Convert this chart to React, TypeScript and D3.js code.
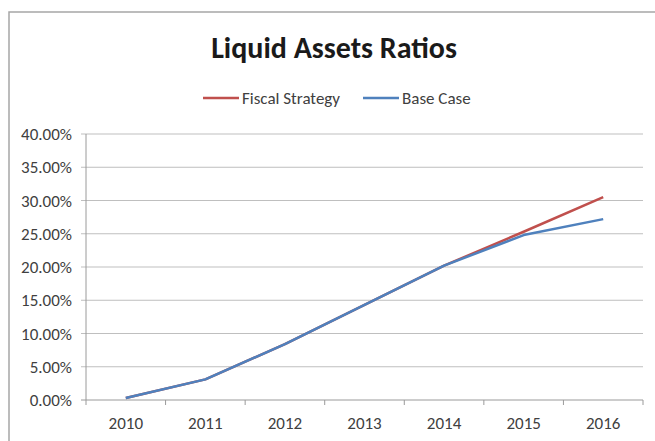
import React from "react";
import * as d3 from "d3";

const years = ["2010", "2011", "2012", "2013", "2014", "2015", "2016"];
const fiscalStrategy = [0.003, 0.031, 0.084, 0.143, 0.202, 0.253, 0.305];
const baseCase = [0.003, 0.031, 0.084, 0.143, 0.202, 0.248, 0.272];
const yTicks = [0, 0.05, 0.1, 0.15, 0.2, 0.25, 0.3, 0.35, 0.4];
const seriesNames = ["Fiscal Strategy", "Base Case"];
const seriesColors = ["#C0504D", "#4F81BD"];

const W = 655;
const H = 441;
const left = 86;
const right = 643;
const top = 134;
const bottom = 400;
const font = "Calibri, Carlito, Lato, 'Liberation Sans', Arial, sans-serif";

export default function App() {
  const x = d3.scaleBand<string>().domain(years).range([left, right]).padding(0);
  const y = d3.scaleLinear().domain([0, 0.4]).range([bottom, top]);
  const line = d3
    .line<number>()
    .x((_, i) => (x(years[i]) as number) + x.bandwidth() / 2)
    .y((d) => y(d));
  const fmt = (v: number) => (v * 100).toFixed(2) + "%";
  const series = [fiscalStrategy, baseCase];
  const boundaries = d3.range(years.length + 1).map((i) => left + i * x.bandwidth());

  return (
    <svg
      width={W}
      height={H}
      style={{ position: "absolute", left: 0, top: 0, background: "#fff" }}
    >
      <rect x={9} y={12} width={700} height={500} fill="#fff" stroke="#a6a6a6" strokeWidth={1.5} />
      <text
        x={334}
        y={58}
        textAnchor="middle"
        fontFamily={font}
        fontWeight="bold"
        fontSize={30}
        fill="#1a1a1a"
      >
        Liquid Assets Ratios
      </text>
      {/* legend */}
      {seriesNames.map((name, i) => {
        const lx = i === 0 ? 203 : 363;
        return (
          <g key={name}>
            <line x1={lx} x2={lx + 36} y1={98} y2={98} stroke={seriesColors[i]} strokeWidth={2.5} />
            <text x={lx + 39} y={104} fontFamily={font} fontSize={17} fill="#404040">
              {name}
            </text>
          </g>
        );
      })}
      {/* grid */}
      {yTicks.map((t) => (
        <g key={t}>
          <line x1={left - 5} x2={right} y1={y(t)} y2={y(t)} stroke={t === 0 ? "#9a9a9a" : "#bfbfbf"} strokeWidth={1} />
          <text
            x={72}
            y={y(t) + 6}
            textAnchor="end"
            fontFamily={font}
            fontSize={17}
            fill="#404040"
          >
            {fmt(t)}
          </text>
        </g>
      ))}
      <line x1={left} x2={left} y1={top} y2={bottom} stroke="#9a9a9a" strokeWidth={1} />
      {boundaries.map((b, i) => (
        <line key={i} x1={b} x2={b} y1={bottom} y2={bottom + 5} stroke="#9a9a9a" strokeWidth={1} />
      ))}
      {years.map((yr) => (
        <text
          key={yr}
          x={(x(yr) as number) + x.bandwidth() / 2}
          y={429}
          textAnchor="middle"
          fontFamily={font}
          fontSize={17}
          fill="#404040"
        >
          {yr}
        </text>
      ))}
      {series.map((s, i) => (
        <path key={i} d={line(s) || ""} fill="none" stroke={seriesColors[i]} strokeWidth={2.5} strokeLinejoin="round" />
      ))}
    </svg>
  );
}
